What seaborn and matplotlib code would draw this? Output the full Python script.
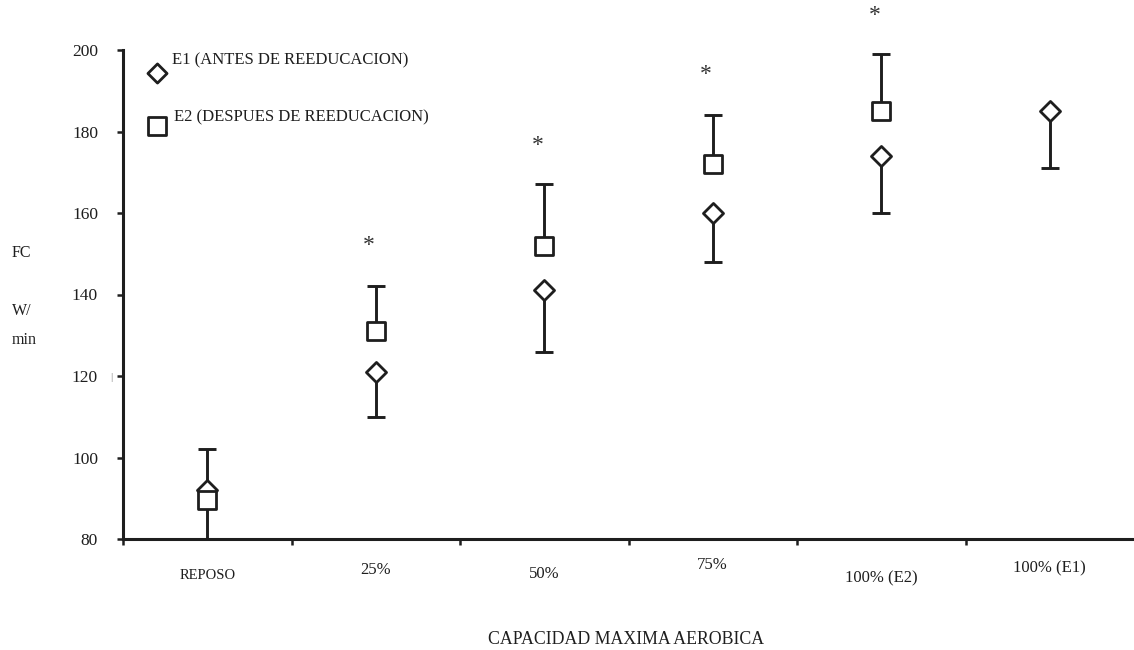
import numpy as np
import pandas as pd
import matplotlib
matplotlib.use("Agg")
import matplotlib.pyplot as plt
from matplotlib.transforms import ScaledTranslation
import seaborn as sns

# Heart rate (FC) at each aerobic-capacity stage, before (E1) and after (E2) re-education
categories = ["REPOSO", "25%", "50%", "75%", "100% (E2)", "100% (E1)"]
e1_mean = [92, 121, 141, 160, 174, 185]
e1_sd = [12, 11, 15, 12, 14, 14]
e2_mean = [89.5, 131, 152, 172, 185, np.nan]
e2_sd = [12.5, 11, 15, 12, 14, np.nan]
star_at = ["25%", "50%", "75%", "100% (E2)"]
star_level = [152, 176.5, 194, 208.5]

y_ticks = [80, 100, 120, 140, 160, 180, 200]
series_names = ["E1 (ANTES DE REEDUCACION)", "E2 (DESPUES DE REEDUCACION)"]
axis_title = "CAPACIDAD MAXIMA AEROBICA"

sns.set_theme(style="white")
plt.rcParams["font.family"] = ["Liberation Serif", "DejaVu Serif"]
ink = "#1e1e1e"

fig = plt.figure(figsize=(11.34, 6.5), dpi=100)
ax = fig.add_axes([123 / 1134, 1 - 539 / 650, 1011 / 1134, (539 - 50) / 650])

x = np.arange(len(categories))
e1m, e1s = np.array(e1_mean, float), np.array(e1_sd, float)
e2m, e2s = np.array(e2_mean, float), np.array(e2_sd, float)
df = pd.DataFrame({
    "x": np.concatenate([x, x]),
    "FC": np.concatenate([e1m, e2m]),
    "serie": ["E1"] * len(x) + ["E2"] * len(x),
}).dropna()

# one-sided error bars: E1 downward, E2 upward
cap = 0.052
lw = 2.1
ax.vlines(x, e1m - e1s, e1m, color=ink, lw=lw, zorder=2)
ax.hlines(e1m - e1s, x - cap, x + cap, color=ink, lw=lw, zorder=2, clip_on=False)
ok = ~np.isnan(e2m)
ax.vlines(x[ok], e2m[ok], e2m[ok] + e2s[ok], color=ink, lw=lw, zorder=2)
ax.hlines(e2m[ok] + e2s[ok], x[ok] - cap, x[ok] + cap, color=ink, lw=lw, zorder=2)

sns.scatterplot(data=df[df.serie == "E1"], x="x", y="FC", marker="D", s=105,
                color="white", edgecolor=ink, linewidth=2.0, ax=ax, zorder=3,
                legend=False)
sns.scatterplot(data=df[df.serie == "E2"], x="x", y="FC", marker="s", s=180,
                color="white", edgecolor=ink, linewidth=2.0, ax=ax, zorder=4,
                legend=False)

# significance marks
for cat, lvl in zip(star_at, star_level):
    ax.text(categories.index(cat) - 0.04, lvl, "*", ha="center", va="center",
            fontsize=17, color="#333333", clip_on=False)

ax.set_xlim(-0.5, len(categories) - 0.5)
ax.set_ylim(y_ticks[0], y_ticks[-1])
ax.set_yticks(y_ticks)
ax.set_yticklabels([str(v) for v in y_ticks], fontsize=12.5, color=ink)
ax.set_xticks(x)
ax.set_xticklabels(categories, color=ink)
for lab in ax.get_xticklabels():
    lab.set_fontsize(10.5 if lab.get_text() == "REPOSO" else 12)
ax.set_xticks(np.arange(len(categories)) - 0.5, minor=True)
ax.tick_params(axis="x", which="major", length=0, pad=18)
ax.tick_params(axis="x", which="minor", direction="out", length=4.5, width=1.8,
               color=ink, bottom=True)
ax.tick_params(axis="y", direction="out", length=4, width=1.8, color=ink,
               pad=14, left=True)
ax.set_xlabel("")
ax.set_ylabel("")

# stagger the category labels slightly
shifts_px = [-5, 2, -2, 7, -6, 4]
for lab, d in zip(ax.get_xticklabels(), shifts_px):
    lab.set_transform(lab.get_transform() + ScaledTranslation(0, d / 100, fig.dpi_scale_trans))

for side in ["top", "right"]:
    ax.spines[side].set_visible(False)
for side in ["left", "bottom"]:
    ax.spines[side].set_color(ink)
    ax.spines[side].set_linewidth(2.2)
ax.patch.set_alpha(0)

# key in the upper-left corner
key_x = -0.298
ax.scatter([key_x], [194.4], marker="D", s=95, color="white", edgecolor=ink,
           linewidth=2.0, clip_on=False, zorder=5)
ax.scatter([key_x], [181.3], marker="s", s=170, color="white", edgecolor=ink,
           linewidth=2.0, clip_on=False, zorder=5)
ax.text(key_x + 0.09, 197.4, series_names[0], fontsize=12, color=ink,
        ha="left", va="center")
ax.text(key_x + 0.10, 183.5, series_names[1], fontsize=12, color=ink,
        ha="left", va="center")

# axis titles
fig.text(12 / 1134, 1 - 253 / 650, "FC", fontsize=11.5, color=ink, va="center")
fig.text(12 / 1134, 1 - 311 / 650, "W/", fontsize=11.5, color=ink, va="center")
fig.text(12 / 1134, 1 - 340 / 650, "min", fontsize=11.5, color=ink, va="center")
fig.text(110 / 1134, 1 - 377 / 650, "|", fontsize=8, color="#777777", va="center")
fig.text(626 / 1134, 1 - 640 / 650, axis_title, fontsize=12.8, color=ink,
         ha="center", va="center")

fig.savefig("out.png", dpi=100, facecolor="white")
